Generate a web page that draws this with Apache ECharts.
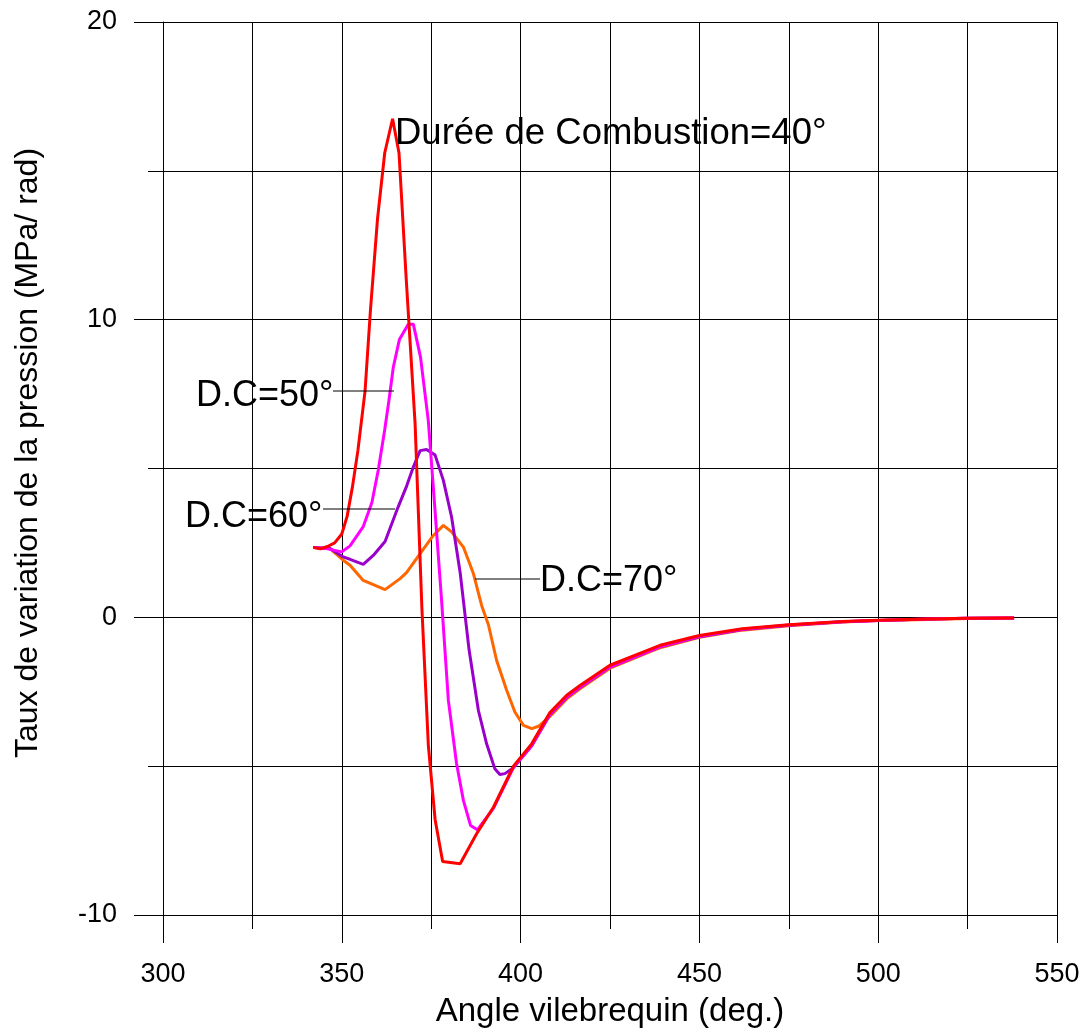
<!DOCTYPE html>
<html>
<head>
<meta charset="utf-8">
<script src="https://cdn.jsdelivr.net/npm/echarts@6/dist/echarts.min.js"></script>
<style>
  html, body { margin: 0; padding: 0; background: #fff; }
  #chart { width: 1087px; height: 1034px; }
</style>
</head>
<body>
<div id="chart"></div>
<script>
// Rate of pressure rise versus crank angle, for four combustion durations.
// Each point is [crank angle (deg), dP/dθ (MPa/rad)].
const dc40 = [[342,2.35],[344,2.3],[346,2.38],[348,2.5],[350,2.8],[351.5,3.4],[353,4.4],[354.5,5.6],[356.5,7.6],[358,10.3],[360,13.4],[362,15.6],[364.2,16.75],[366,15.6],[368,11.4],[370.5,6.5],[372.4,0.3],[374.2,-4.3],[376.1,-6.8],[378.2,-8.2],[383.1,-8.28],[387.7,-7.27],[392.4,-6.38],[398,-5.0],[403.1,-4.25],[408.2,-3.2],[412.9,-2.62],[416.6,-2.29],[425,-1.61],[439,-0.94],[450,-0.61],[462,-0.38],[475,-0.25],[490,-0.14],[500,-0.1],[514,-0.06],[525,-0.03],[538,-0.02]];

const dc50 = [[342,2.35],[346,2.3],[350,2.2],[352.3,2.4],[356,3.05],[358.4,3.85],[360.2,4.95],[362,6.3],[363.2,7.3],[364.4,8.4],[366.1,9.33],[368.6,9.85],[370,9.85],[372,8.75],[374.2,6.6],[376,3.7],[377.9,0.57],[379.8,-2.79],[382.1,-4.92],[384,-6.15],[386,-6.99],[387.9,-7.14],[392.4,-6.42],[398,-5.05],[403.1,-4.3],[408.2,-3.25],[412.9,-2.67],[416.6,-2.34],[425,-1.66],[439,-0.98],[450,-0.64],[462,-0.4],[475,-0.26],[490,-0.15],[500,-0.11],[514,-0.06],[525,-0.03],[538,-0.02]];

const dc60 = [[342,2.35],[346.7,2.31],[350.4,2.03],[352.3,1.95],[356,1.78],[358.8,2.08],[362.1,2.55],[365.4,3.6],[368.1,4.4],[370,5.05],[371.9,5.6],[373.7,5.64],[376.1,5.45],[378.4,4.6],[380.7,3.37],[383.1,1.5],[385.6,-1.1],[388.2,-3.13],[390.5,-4.25],[392.8,-5.09],[394.2,-5.28],[395.6,-5.25],[398,-5.05],[403.1,-4.32],[408.2,-3.27],[412.9,-2.69],[416.6,-2.36],[425,-1.67],[439,-0.99],[450,-0.65],[462,-0.41],[475,-0.27],[490,-0.15],[500,-0.11],[514,-0.06],[525,-0.03],[538,-0.02]];

const dc70 = [[342,2.35],[346.7,2.31],[350.4,1.92],[352.3,1.75],[356,1.24],[362.1,0.93],[366.3,1.3],[368.1,1.5],[371.9,2.14],[375.6,2.75],[378.4,3.09],[380.7,2.87],[384,2.36],[386.8,1.47],[389.1,0.4],[391,-0.25],[393.3,-1.45],[396.1,-2.45],[398.4,-3.18],[400.8,-3.63],[403.1,-3.74],[405,-3.66],[408.2,-3.33],[412.9,-2.74],[416.6,-2.4],[425,-1.71],[439,-1.02],[450,-0.67],[462,-0.43],[475,-0.28],[490,-0.16],[500,-0.11],[514,-0.07],[525,-0.04],[538,-0.02]];

const xTitle = 'Angle vilebrequin (deg.)';
const yTitle = 'Taux de variation de la pression (MPa/ rad)';
const curveLabels = ['Durée de Combustion=40°', 'D.C=50°', 'D.C=60°', 'D.C=70°'];

const FONT = '"Liberation Sans", Arial, sans-serif';
const gridLine = { show: true, lineStyle: { color: '#000', width: 1 } };

function axisBase(tickLen, minorLen) {
  return {
    type: 'value',
    axisLine: { show: true, onZero: false, lineStyle: { color: '#000', width: 1 } },
    axisTick: { show: true, inside: false, length: tickLen, lineStyle: { color: '#000', width: 1 } },
    minorTick: { show: true, splitNumber: 2, length: minorLen, lineStyle: { color: '#000', width: 1 } },
    splitLine: gridLine,
    minorSplitLine: gridLine,
    axisLabel: { color: '#000', fontSize: 27, fontFamily: FONT, margin: 46 }
  };
}

const chart = echarts.init(document.getElementById('chart'), null, { renderer: 'canvas' });

function line(name, data, color) {
  return {
    name, type: 'line', data,
    showSymbol: false, symbol: 'none', smooth: false,
    lineStyle: { color, width: 3 },
    emphasis: { disabled: true }
  };
}

function text(str, x, y, size, extra) {
  return Object.assign({
    type: 'text', x, y, z: 100,
    style: { text: str, fill: '#000', font: size + 'px ' + FONT, textAlign: 'left', textVerticalAlign: 'middle' }
  }, extra || {});
}

function leader(x1, y1, x2) {
  return { type: 'line', z: 100, shape: { x1, y1, x2, y2: y1 }, style: { stroke: '#000', lineWidth: 1 } };
}

chart.setOption({
  animation: false,
  backgroundColor: '#fff',
  grid: { left: 163, right: 30, top: 22, bottom: 119, containLabel: false },
  xAxis: Object.assign(axisBase(28, 14), { min: 300, max: 550, interval: 50 }),
  yAxis: Object.assign(axisBase(29, 15), { min: -10, max: 20, interval: 10 }),
  series: [
    line('D.C=70°', dc70, '#ff6600'),
    line('D.C=60°', dc60, '#9900cc'),
    line('D.C=50°', dc50, '#ff00ff'),
    line('D.C=40°', dc40, '#ff0000')
  ],
  graphic: [
    text(curveLabels[0], 395, 134, 36.5),
    text(curveLabels[1], 196, 396, 36),
    leader(333, 391, 394),
    text(curveLabels[2], 185, 517, 36),
    leader(323, 509, 395),
    text(curveLabels[3], 540, 581, 36),
    leader(475, 579, 540),
    text(xTitle, 610, 1012, 33, {}),
    text(yTitle, 28, 453, 32, { rotation: Math.PI / 2 })
  ].map(function (g, i) {
    if (i >= 7) { g.style.textAlign = 'center'; }
    return g;
  })
});
</script>
</body>
</html>
